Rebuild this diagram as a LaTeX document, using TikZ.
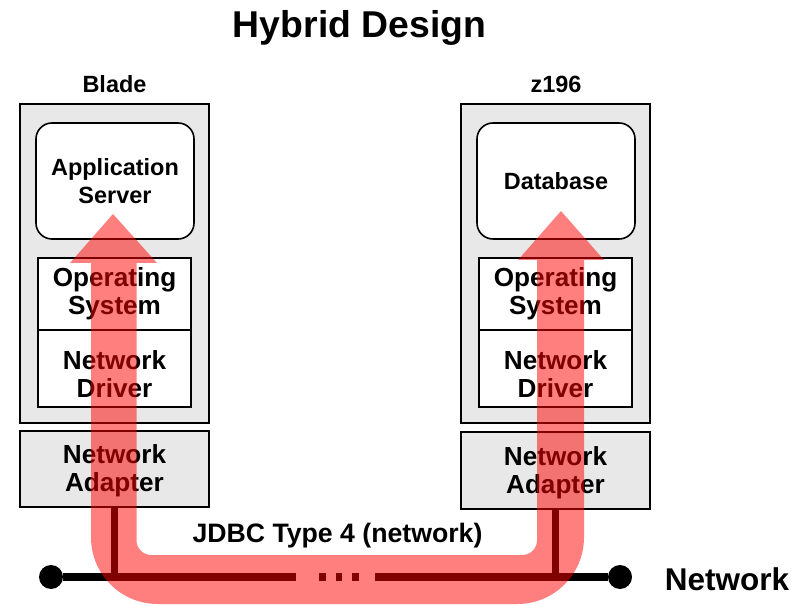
\documentclass[tikz,border=0pt]{standalone}
\usepackage{fontspec}
\setmainfont{Liberation Sans}
\usetikzlibrary{positioning}

\tikzset{
  lbl/.style={font=\bfseries\fontsize{19.6pt}{21pt}\selectfont,align=center},
  outerbox/.style={draw,line width=1.2pt,fill=black!9,minimum width=142pt,minimum height=239pt},
  adapterbox/.style={draw,line width=1.2pt,fill=black!9,minimum width=142pt,minimum height=57pt},
  appbox/.style={draw,line width=1.2pt,fill=white,rounded corners=12pt,minimum width=118.5pt,minimum height=87pt},
  layerbox/.style={draw,line width=1.2pt,fill=white,minimum width=115pt},
  wire/.style={line width=5.6pt},
}

\begin{document}
\begin{tikzpicture}[x=0.75pt,y=-0.75pt]
  \useasboundingbox (0,0) rectangle (806,605);
  \node[font=\bfseries\fontsize{28pt}{30pt}\selectfont] (title) at (359.5,28) {Hybrid Design};
  \node[font=\bfseries\fontsize{17.6pt}{19pt}\selectfont] (bladelabel) at (114.5,84) {Blade};
  \node[font=\bfseries\fontsize{17.6pt}{19pt}\selectfont] (zlabel) at (556,84) {z196};
% Blade side
  \node[outerbox] (bladeouter) at (114.5,263.5) {};
  \node[appbox,font=\bfseries\fontsize{17.6pt}{21pt}\selectfont,align=center] (appserver) at (115,181) {Application\\Server};
  \node[layerbox,lbl,minimum height=54pt] (bladeos) at (114.5,294) {Operating\\System};
  \node[layerbox,minimum height=58pt] (bladedriver) at (114.5,368.5) {};
  \node[lbl] (bladedrivertext) at (114.5,374) {Network\\Driver};
  \node[adapterbox] (bladeadapter) at (114.5,469) {};
  \node[lbl] (bladeadaptertext) at (114.5,471) {Network\\Adapter};
% z196 side
  \node[outerbox] (zouter) at (555.5,263.5) {};
  \node[appbox,font=\bfseries\fontsize{17.6pt}{21pt}\selectfont] (database) at (556,181) {Database};
  \node[layerbox,lbl,minimum height=54pt] (zos) at (555.5,294) {Operating\\System};
  \node[layerbox,minimum height=58pt] (zdriver) at (555.5,368.5) {};
  \node[lbl] (zdrivertext) at (555.5,374) {Network\\Driver};
  \node[adapterbox,minimum height=58pt] (zadapter) at (555.5,470.5) {};
  \node[lbl] (zadaptertext) at (555.5,473) {Network\\Adapter};
% Network line
  \node[circle,fill=black,inner sep=0pt,minimum size=18pt] (netleft) at (51,577) {};
  \node[circle,fill=black,inner sep=0pt,minimum size=18pt] (netright) at (620,577) {};
  \coordinate (gapleft) at (296,577);
  \coordinate (gapright) at (375,577);
  \coordinate (dotsleft) at (319,577);
  \coordinate (dotsright) at (360,577);
  \draw[wire] (netleft) -- (gapleft);
  \draw[wire] (gapright) -- (netright);
  \draw[wire,dash pattern=on 5.2pt off 7.2pt] (dotsleft) -- (dotsright);
  \draw[wire] (bladeadapter.south) -- (bladeadapter.south |- gapleft);
  \draw[wire] (zadapter.south) -- (zadapter.south |- gapright);
  \node[font=\bfseries\fontsize{20pt}{21pt}\selectfont] (jdbc) at (337.5,536) {JDBC Type 4 (network)};
  \node[font=\bfseries\fontsize{23.6pt}{25pt}\selectfont] (network) at (727,579) {Network};
% Path of the call
  \fill[red,opacity=0.5] (113,214) -- (157,263) -- (136.5,263)
    [rounded corners=11pt] -- (136.5,555) -- (537,555) [sharp corners] -- (537,260)
    -- (518,260) -- (561,211) -- (604,260) -- (584,260)
    [rounded corners=50pt] -- (584,604) -- (91,604) [sharp corners] -- (91,263) -- (70,263) -- cycle;
\end{tikzpicture}
\end{document}
